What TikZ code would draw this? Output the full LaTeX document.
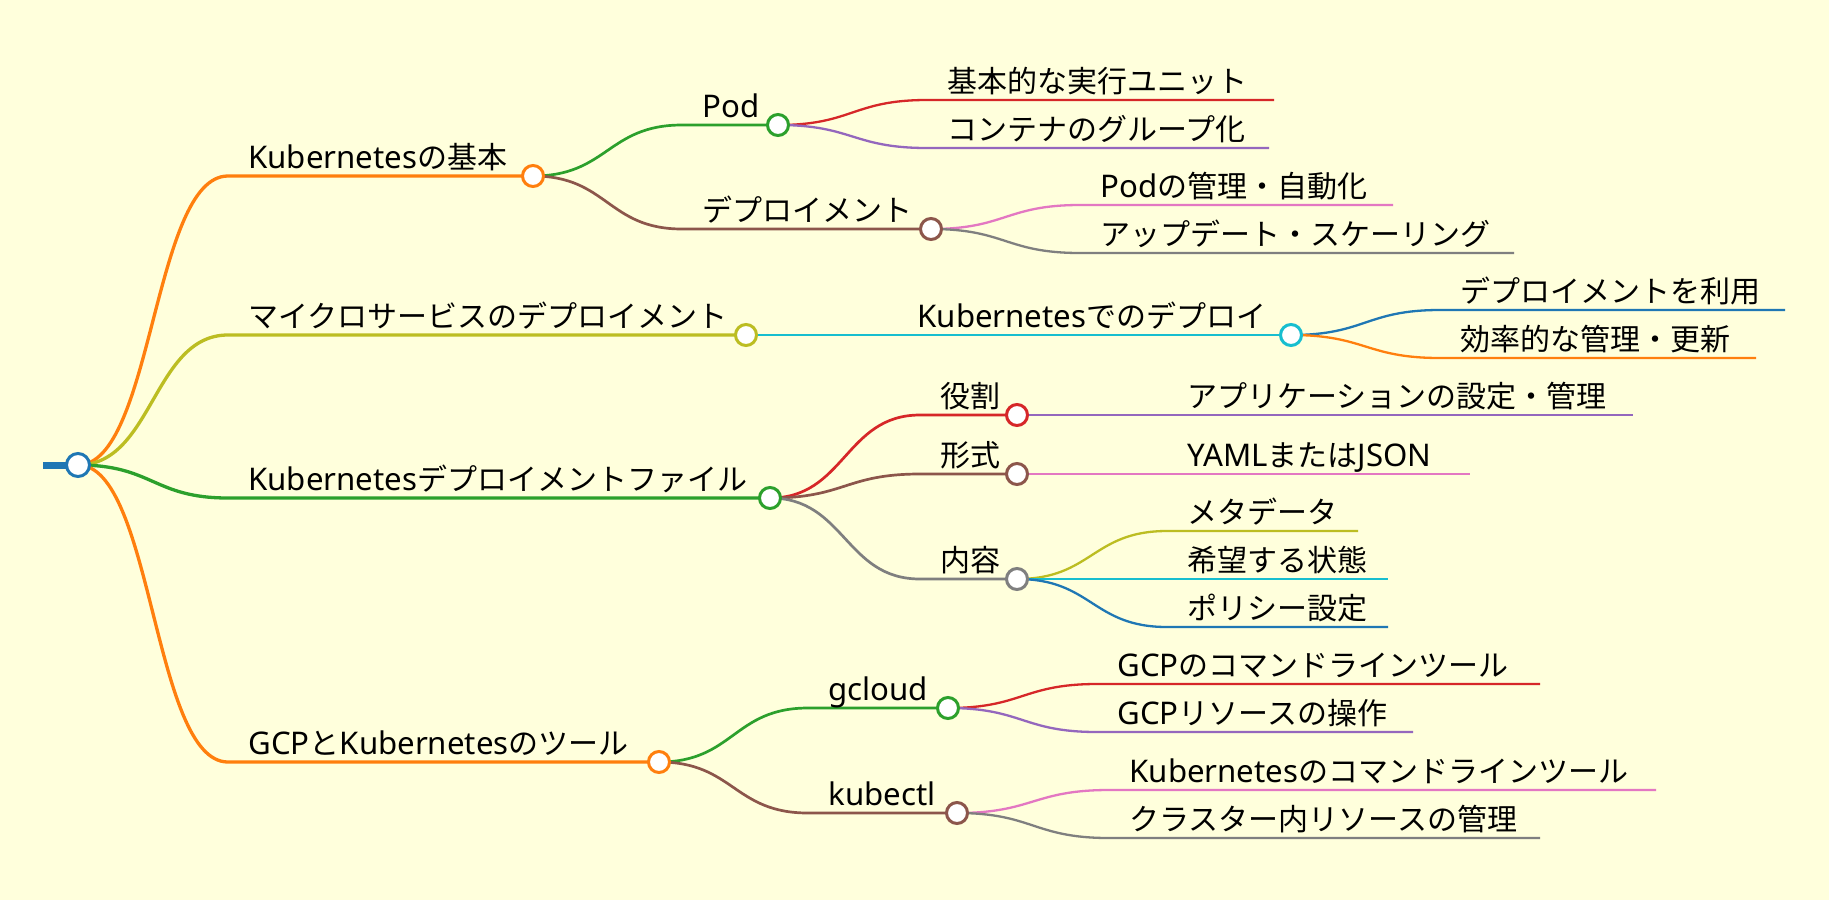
\documentclass[tikz,border=0pt]{standalone}
\usepackage{fontspec}
\setmainfont{Noto Sans CJK JP}
\newfontfamily\latfont{Noto Sans}[Scale=1.04]
\newcommand\latn[1]{{\latfont #1}}
\usetikzlibrary{calc}

\definecolor{paper}{HTML}{FFFFDC}
\definecolor{mmBlue}{HTML}{1F77B4}
\definecolor{mmOrange}{HTML}{FF7F0E}
\definecolor{mmGreen}{HTML}{2CA02C}
\definecolor{mmRed}{HTML}{D62728}
\definecolor{mmPurple}{HTML}{9467BD}
\definecolor{mmBrown}{HTML}{8C564B}
\definecolor{mmPink}{HTML}{E377C2}
\definecolor{mmGray}{HTML}{7F7F7F}
\definecolor{mmOlive}{HTML}{BCBD22}
\definecolor{mmCyan}{HTML}{17BECF}

\begin{document}
\begin{tikzpicture}[x=0.5pt, y=-0.5pt,
  lvA/.style={line width=1.65pt},
  lvB/.style={line width=1.35pt},
  lvC/.style={line width=1.15pt},
  knob/.style={circle, draw=#1, fill=white, line width=1.5pt, minimum size=10.5pt, inner sep=0pt},
  lbl/.style={anchor=base west, inner sep=0pt, xshift=10pt, yshift=4pt,
    font=\fontsize{15pt}{18pt}\selectfont},
  mmlink/.style={to path={let \p1=(\tikztostart), \p2=(\tikztotarget) in
    .. controls ({(\x1+\x2)/2},\y1) and ({(\x1+\x2)/2},\y2) .. (\tikztotarget)}}]

\useasboundingbox (0,0) rectangle (1829,900);
\fill[paper] (0,0) rectangle (1829,900);

% root
\coordinate (rootS) at (43,465);
\coordinate (root) at (78,465);

% first level
\coordinate (k1s) at (228,176);  \coordinate (k1) at (533,176);
\coordinate (k2s) at (228,335);  \coordinate (k2) at (746,335);
\coordinate (k3s) at (228,498);  \coordinate (k3) at (770,498);
\coordinate (k4s) at (228,762);  \coordinate (k4) at (659,762);

% second level
\coordinate (pods) at (682,125);  \coordinate (pod) at (778,125);
\coordinate (deps) at (682,229);  \coordinate (dep) at (931,229);
\coordinate (kdeps) at (897,335); \coordinate (kdep) at (1291,335);
\coordinate (roles) at (920,415); \coordinate (role) at (1017,415);
\coordinate (fmts) at (920,474);  \coordinate (fmt) at (1017,474);
\coordinate (conts) at (920,579); \coordinate (cont) at (1017,579);
\coordinate (gcls) at (808,708);  \coordinate (gcl) at (948,708);
\coordinate (kctls) at (808,813); \coordinate (kctl) at (957,813);

% third level
\coordinate (a1s) at (927,100);   \coordinate (a1) at (1274,100);
\coordinate (a2s) at (927,148);   \coordinate (a2) at (1269,148);
\coordinate (b1s) at (1080,205);  \coordinate (b1) at (1393,205);
\coordinate (b2s) at (1080,253);  \coordinate (b2) at (1514,253);
\coordinate (c1s) at (1440,310);  \coordinate (c1) at (1785,310);
\coordinate (c2s) at (1440,358);  \coordinate (c2) at (1756,358);
\coordinate (d1s) at (1167,415);  \coordinate (d1) at (1633,415);
\coordinate (e1s) at (1167,474);  \coordinate (e1) at (1470,474);
\coordinate (f1s) at (1167,531);  \coordinate (f1) at (1358,531);
\coordinate (f2s) at (1167,579);  \coordinate (f2) at (1388,579);
\coordinate (f3s) at (1167,627);  \coordinate (f3) at (1388,627);
\coordinate (g1s) at (1097,684);  \coordinate (g1) at (1540,684);
\coordinate (g2s) at (1097,732);  \coordinate (g2) at (1413,732);
\coordinate (h1s) at (1109,790);  \coordinate (h1) at (1656,790);
\coordinate (h2s) at (1109,838);  \coordinate (h2) at (1540,838);

\draw[line width=3.5pt, mmBlue] (rootS) -- (root);

\draw[lvA, mmOrange] (root) to[mmlink] (k1s) -- (k1);
\draw[lvA, mmOlive] (root) to[mmlink] (k2s) -- (k2);
\draw[lvA, mmGreen] (root) to[mmlink] (k3s) -- (k3);
\draw[lvA, mmOrange] (root) to[mmlink] (k4s) -- (k4);

\draw[lvB, mmGreen] (k1) to[mmlink] (pods) -- (pod);
\draw[lvB, mmBrown] (k1) to[mmlink] (deps) -- (dep);
\draw[lvB, mmCyan] (k2) to[mmlink] (kdeps) -- (kdep);
\draw[lvB, mmRed] (k3) to[mmlink] (roles) -- (role);
\draw[lvB, mmBrown] (k3) to[mmlink] (fmts) -- (fmt);
\draw[lvB, mmGray] (k3) to[mmlink] (conts) -- (cont);
\draw[lvB, mmGreen] (k4) to[mmlink] (gcls) -- (gcl);
\draw[lvB, mmBrown] (k4) to[mmlink] (kctls) -- (kctl);

\draw[lvC, mmRed] (pod) to[mmlink] (a1s) -- (a1);
\draw[lvC, mmPurple] (pod) to[mmlink] (a2s) -- (a2);
\draw[lvC, mmPink] (dep) to[mmlink] (b1s) -- (b1);
\draw[lvC, mmGray] (dep) to[mmlink] (b2s) -- (b2);
\draw[lvC, mmBlue] (kdep) to[mmlink] (c1s) -- (c1);
\draw[lvC, mmOrange] (kdep) to[mmlink] (c2s) -- (c2);
\draw[lvC, mmPurple] (role) to[mmlink] (d1s) -- (d1);
\draw[lvC, mmPink] (fmt) to[mmlink] (e1s) -- (e1);
\draw[lvC, mmOlive] (cont) to[mmlink] (f1s) -- (f1);
\draw[lvC, mmCyan] (cont) to[mmlink] (f2s) -- (f2);
\draw[lvC, mmBlue] (cont) to[mmlink] (f3s) -- (f3);
\draw[lvC, mmRed] (gcl) to[mmlink] (g1s) -- (g1);
\draw[lvC, mmPurple] (gcl) to[mmlink] (g2s) -- (g2);
\draw[lvC, mmPink] (kctl) to[mmlink] (h1s) -- (h1);
\draw[lvC, mmGray] (kctl) to[mmlink] (h2s) -- (h2);

% labels
\node[lbl] (k1t) at (k1s) {\latn{Kubernetes}の基本};
\node[lbl] (k2t) at (k2s) {マイクロサービスのデプロイメント};
\node[lbl] (k3t) at (k3s) {\latn{Kubernetes}デプロイメントファイル};
\node[lbl] (k4t) at (k4s) {\latn{GCP}と\latn{Kubernetes}のツール};
\node[lbl] (podt) at (pods) {\latn{Pod}};
\node[lbl] (dept) at (deps) {デプロイメント};
\node[lbl] (kdept) at (kdeps) {\latn{Kubernetes}でのデプロイ};
\node[lbl] (rolet) at (roles) {役割};
\node[lbl] (fmtt) at (fmts) {形式};
\node[lbl] (contt) at (conts) {内容};
\node[lbl] (gclt) at (gcls) {\latn{gcloud}};
\node[lbl] (kctlt) at (kctls) {\latn{kubectl}};
\node[lbl] (a1t) at (a1s) {基本的な実行ユニット};
\node[lbl] (a2t) at (a2s) {コンテナのグループ化};
\node[lbl] (b1t) at (b1s) {\latn{Pod}の管理・自動化};
\node[lbl] (b2t) at (b2s) {アップデート・スケーリング};
\node[lbl] (c1t) at (c1s) {デプロイメントを利用};
\node[lbl] (c2t) at (c2s) {効率的な管理・更新};
\node[lbl] (d1t) at (d1s) {アプリケーションの設定・管理};
\node[lbl] (e1t) at (e1s) {\latn{YAML}または\latn{JSON}};
\node[lbl] (f1t) at (f1s) {メタデータ};
\node[lbl] (f2t) at (f2s) {希望する状態};
\node[lbl] (f3t) at (f3s) {ポリシー設定};
\node[lbl] (g1t) at (g1s) {\latn{GCP}のコマンドラインツール};
\node[lbl] (g2t) at (g2s) {\latn{GCP}リソースの操作};
\node[lbl] (h1t) at (h1s) {\latn{Kubernetes}のコマンドラインツール};
\node[lbl] (h2t) at (h2s) {クラスター内リソースの管理};

% circles
\node[knob=mmBlue, minimum size=11.5pt] (rootk) at (root) {};
\node[knob=mmOrange] (k1k) at (k1) {};
\node[knob=mmOlive] (k2k) at (k2) {};
\node[knob=mmGreen] (k3k) at (k3) {};
\node[knob=mmOrange] (k4k) at (k4) {};
\node[knob=mmGreen] (podk) at (pod) {};
\node[knob=mmBrown] (depk) at (dep) {};
\node[knob=mmCyan] (kdepk) at (kdep) {};
\node[knob=mmRed] (rolek) at (role) {};
\node[knob=mmBrown] (fmtk) at (fmt) {};
\node[knob=mmGray] (contk) at (cont) {};
\node[knob=mmGreen] (gclk) at (gcl) {};
\node[knob=mmBrown] (kctlk) at (kctl) {};

\end{tikzpicture}
\end{document}
